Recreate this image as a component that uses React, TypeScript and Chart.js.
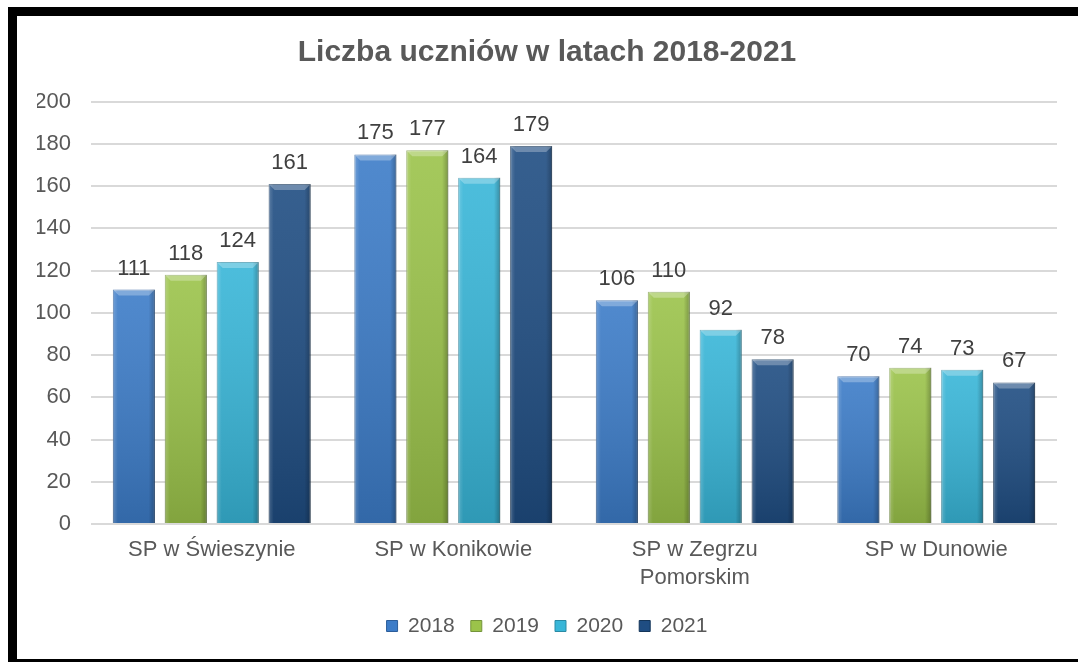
import React, { useEffect, useRef } from "react";
import { Chart, registerables } from "chart.js";

Chart.register(...registerables);

const titleText = "Liczba uczniów w latach 2018-2021";
const categories: (string | string[])[] = [
  "SP w Świeszynie",
  "SP w Konikowie",
  ["SP w Zegrzu", "Pomorskim"],
  "SP w Dunowie",
];
const seriesNames = ["2018", "2019", "2020", "2021"];
const values2018 = [111, 175, 106, 70];
const values2019 = [118, 177, 110, 74];
const values2020 = [124, 164, 92, 73];
const values2021 = [161, 179, 78, 67];
const yTicksMax = 200;
const yTicksStep = 20;

const fillColors = ["#3c7cc8", "#9bc34a", "#38b6d8", "#1f4d82"];
const edgeColors = ["#2b5d9a", "#74943a", "#2a8aa4", "#143559"];
const FONT = "'Liberation Sans', Arial, sans-serif";
const TEXT = "#595959";

const bevelAndLabels = {
  id: "bevelAndLabels",
  afterDatasetsDraw(chart: any) {
    const ctx = chart.ctx as CanvasRenderingContext2D;
    ctx.save();
    chart.data.datasets.forEach((ds: any, di: number) => {
      const meta = chart.getDatasetMeta(di);
      meta.data.forEach((bar: any) => {
        const { x, y, base, width } = bar.getProps(["x", "y", "base", "width"], true);
        const l = x - width / 2;
        const r = x + width / 2;
        const h = base - y;
        const gv = ctx.createLinearGradient(0, y, 0, base);
        gv.addColorStop(0, "rgba(255,255,255,0.10)");
        gv.addColorStop(1, "rgba(0,0,0,0.16)");
        ctx.fillStyle = gv;
        ctx.fillRect(l, y, width, h);
        const gh = ctx.createLinearGradient(l, 0, r, 0);
        gh.addColorStop(0, "rgba(255,255,255,0.20)");
        gh.addColorStop(0.12, "rgba(255,255,255,0)");
        gh.addColorStop(0.85, "rgba(0,0,0,0)");
        gh.addColorStop(1, "rgba(0,0,0,0.25)");
        ctx.fillStyle = gh;
        ctx.fillRect(l, y, width, h);
        const b = 6;
        ctx.beginPath();
        ctx.moveTo(l, y);
        ctx.lineTo(r, y);
        ctx.lineTo(r - b, y + b);
        ctx.lineTo(l + b, y + b);
        ctx.closePath();
        ctx.fillStyle = "rgba(255,255,255,0.28)";
        ctx.fill();
      });
    });
    ctx.fillStyle = "#404040";
    ctx.font = `22px ${FONT}`;
    ctx.textAlign = "center";
    ctx.textBaseline = "alphabetic";
    chart.data.datasets.forEach((ds: any, di: number) => {
      const meta = chart.getDatasetMeta(di);
      meta.data.forEach((bar: any, i: number) => {
        const { x, y } = bar.getProps(["x", "y"], true);
        ctx.fillText(String(ds.data[i]), x, y - 15);
      });
    });
    ctx.restore();
  },
};

export default function App() {
  const ref = useRef<HTMLCanvasElement | null>(null);
  useEffect(() => {
    if (!ref.current) return;
    const all = [values2018, values2019, values2020, values2021];
    const chart = new Chart(ref.current, {
      type: "bar",
      data: {
        labels: categories as any,
        datasets: seriesNames.map((name, i) => ({
          label: name,
          data: all[i],
          backgroundColor: fillColors[i],
          borderColor: edgeColors[i],
          borderWidth: 1,
          barPercentage: 0.81,
          categoryPercentage: 0.86,
        })),
      },
      options: {
        animation: false,
        responsive: false,
        maintainAspectRatio: false,
        layout: { padding: { left: 20, right: 21, top: 10, bottom: 12.5 } },
        plugins: {
          title: {
            display: true,
            text: titleText,
            color: TEXT,
            font: { family: FONT, size: 30, weight: "bold" },
            padding: { top: 9, bottom: 30.6 },
          },
          legend: {
            position: "bottom",
            labels: {
              color: TEXT,
              font: { family: FONT, size: 21 },
              boxWidth: 11,
              boxHeight: 11,
              padding: 16,
            },
          },
          tooltip: { enabled: false },
        },
        scales: {
          x: {
            grid: { display: false },
            border: { display: false },
            ticks: {
              color: TEXT,
              font: { family: FONT, size: 22, lineHeight: 1.27 },
              padding: 4,
              maxRotation: 0,
              autoSkip: false,
            },
            afterFit: (s: any) => {
              s.height = 75.5;
            },
          },
          y: {
            min: 0,
            max: yTicksMax,
            grid: { color: "#d9d9d9", lineWidth: 2, drawTicks: false },
            border: { display: false },
            ticks: {
              stepSize: yTicksStep,
              color: TEXT,
              font: { family: FONT, size: 22 },
              padding: 20,
            },
            afterFit: (s: any) => {
              s.width = 54;
            },
          },
        },
      },
      plugins: [bevelAndLabels],
    });
    return () => chart.destroy();
  }, []);

  return (
    <div style={{ position: "fixed", left: 0, top: 0, width: 1078, height: 662, background: "#fff" }}>
      <div
        style={{
          position: "absolute",
          left: 8,
          top: 7,
          width: 1070,
          height: 655,
          boxSizing: "border-box",
          borderTop: "9px solid #000",
          borderLeft: "9px solid #000",
          borderBottom: "3px solid #000",
          background: "#fff",
        }}
      />
      <canvas
        ref={ref}
        width={1061}
        height={643}
        style={{ position: "absolute", left: 17, top: 16, width: 1061, height: 643 }}
      />
    </div>
  );
}
